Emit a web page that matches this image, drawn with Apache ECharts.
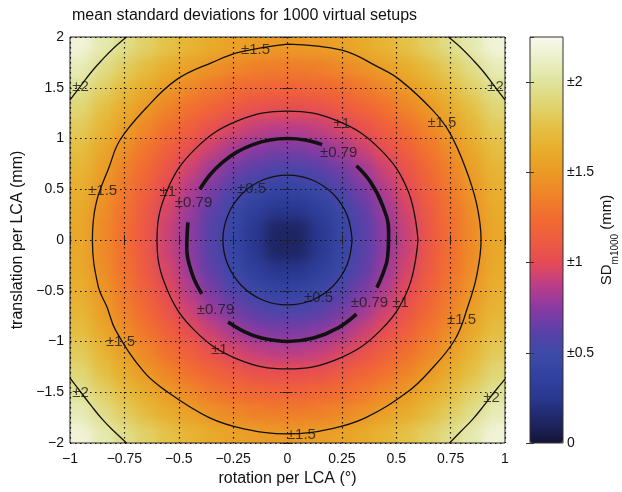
<!DOCTYPE html>
<html lang="en">
<head>
<meta charset="UTF-8">
<title>mean standard deviations for 1000 virtual setups</title>
<script src="https://cdn.jsdelivr.net/npm/echarts@6/dist/echarts.min.js"></script>
<style>
  body { margin: 0; background: #fff; }
  #wrap { position: relative; width: 622px; height: 492px; }
  .plot { position: absolute; left: 70px; top: 37px; width: 435px; height: 406px; }
  #clip { overflow: hidden; }
  #heatBlur { width: 435px; height: 406px; filter: blur(7px); }
  #main { position: absolute; left: 0; top: 0; width: 622px; height: 492px; }
</style>
</head>
<body>
<div id="wrap">
  <div id="heatBase" class="plot"></div>
  <div id="clip" class="plot"><div id="heatBlur"></div></div>
  <div id="main"></div>
</div>
<script type="text/javascript">
// cell centres of one quarter of the map (mirrored about both axes)
var xHalf = [0.05, 0.15, 0.25, 0.35, 0.45, 0.55, 0.65, 0.75, 0.85, 0.95];
var yHalf = [0.1, 0.3, 0.5, 0.7, 0.9, 1.1, 1.3, 1.5, 1.7, 1.9];
// SD_m1000, rows = yHalf, columns = xHalf
var sdQuarter = [
  [0.11, 0.26, 0.43, 0.59, 0.76, 0.92, 1.09, 1.26, 1.42, 1.59],
  [0.25, 0.34, 0.48, 0.63, 0.79, 0.95, 1.11, 1.28, 1.44, 1.61],
  [0.40, 0.47, 0.57, 0.71, 0.85, 1.00, 1.16, 1.32, 1.48, 1.64],
  [0.56, 0.61, 0.69, 0.80, 0.93, 1.07, 1.22, 1.37, 1.53, 1.68],
  [0.71, 0.75, 0.82, 0.92, 1.03, 1.16, 1.30, 1.44, 1.59, 1.74],
  [0.87, 0.90, 0.96, 1.05, 1.15, 1.26, 1.39, 1.52, 1.67, 1.81],
  [1.03, 1.05, 1.11, 1.18, 1.27, 1.38, 1.49, 1.62, 1.75, 1.89],
  [1.18, 1.21, 1.25, 1.32, 1.40, 1.50, 1.61, 1.72, 1.85, 1.98],
  [1.34, 1.36, 1.40, 1.46, 1.54, 1.62, 1.72, 1.83, 1.95, 2.08],
  [1.50, 1.52, 1.55, 1.61, 1.67, 1.76, 1.85, 1.95, 2.06, 2.18]
];

var xTicks = [-1, -0.75, -0.5, -0.25, 0, 0.25, 0.5, 0.75, 1];
var xTickLabels = ['\u22121', '\u22120.75', '\u22120.5', '\u22120.25', '0', '0.25', '0.5', '0.75', '1'];
var yTicks = [-2, -1.5, -1, -0.5, 0, 0.5, 1, 1.5, 2];
var yTickLabels = ['\u22122', '\u22121.5', '\u22121', '\u22120.5', '0', '0.5', '1', '1.5', '2'];
var cbTicks = [0, 0.5, 1, 1.5, 2];
var cbTickLabels = ['0', '\u00b10.5', '\u00b11', '\u00b11.5', '\u00b12'];
var sdMin = 0, sdMax = 2.25;

var cmap = ['#141436', '#1f2768', '#29378f', '#3242a0', '#3e4aa8', '#5c40a8', '#8a3aa2',
            '#bb3e88', '#e64a55', '#ee5c40', '#f26c30', '#ef8328', '#eb9a26', '#e8ad2c',
            '#e4c044', '#e0d470', '#dfe39c', '#ebefc6', '#f8f9ee'];

// contour lines
var c05 = [[0.297, 0], [0.274, 0.245], [0.21, 0.453], [0.114, 0.591], [0, 0.64], [-0.114, 0.591],
  [-0.21, 0.453], [-0.274, 0.245], [-0.297, 0], [-0.274, -0.245], [-0.21, -0.453], [-0.114, -0.591],
  [0, -0.64], [0.114, -0.591], [0.21, -0.453], [0.274, -0.245], [0.297, 0]];
var c079Top = [[0.159, 0.94], [0.081, 0.985], [0, 1], [-0.081, 0.985], [-0.159, 0.94], [-0.233, 0.866],
  [-0.299, 0.766], [-0.356, 0.643], [-0.403, 0.5]];
var c079Right = [[0.317, 0.731], [0.381, 0.574], [0.437, 0.342], [0.465, 0.087], [0.46, -0.174],
  [0.437, -0.342], [0.411, -0.469]];
var c079Bottom = [[0.317, -0.731], [0.233, -0.866], [0.12, -0.966], [0, -1], [-0.12, -0.966],
  [-0.197, -0.906], [-0.273, -0.809]];
var c079Left = [[-0.394, -0.53], [-0.437, -0.342], [-0.463, -0.087], [-0.458, 0.174]];
var c1 = [[0.6, 0], [0.554, 0.486], [0.424, 0.898], [0.23, 1.173], [0, 1.27], [-0.23, 1.173],
  [-0.424, 0.898], [-0.554, 0.486], [-0.6, 0], [-0.554, -0.486], [-0.424, -0.898], [-0.23, -1.173],
  [0, -1.27], [0.23, -1.173], [0.424, -0.898], [0.554, -0.486], [0.6, 0]];
var c15 = [[0, 1.93], [0.25, 1.87], [0.42, 1.7], [0.515, 1.58], [0.667, 1.28], [0.745, 1.06],
  [0.82, 0.7], [0.87, 0.35], [0.89, 0], [0.87, -0.35], [0.83, -0.65], [0.77, -0.98],
  [0.65, -1.3], [0.55, -1.5], [0.36, -1.75], [0.2, -1.86], [0, -1.91], [-0.2, -1.86],
  [-0.36, -1.75], [-0.55, -1.5], [-0.66, -1.3], [-0.79, -0.89], [-0.83, -0.66], [-0.87, -0.46],
  [-0.897, 0], [-0.88, 0.36], [-0.82, 0.72], [-0.77, 0.985], [-0.65, 1.3], [-0.51, 1.58],
  [-0.345, 1.75], [-0.22, 1.85], [0, 1.93]];
var c2TopLeft = [[-1, 1.38], [-0.95, 1.52], [-0.9, 1.66], [-0.85, 1.78], [-0.8, 1.89], [-0.74, 2]];
var c2TopRight = [[0.74, 2], [0.8, 1.89], [0.85, 1.78], [0.9, 1.66], [0.95, 1.52], [1, 1.38]];
var c2BottomLeft = [[-1, -1.36], [-0.95, -1.5], [-0.9, -1.64], [-0.85, -1.77], [-0.8, -1.88], [-0.74, -2]];
var c2BottomRight = [[0.745, -2], [0.8, -1.88], [0.85, -1.77], [0.9, -1.64], [0.95, -1.5], [1, -1.37]];

var contourLabels = [
  [-0.147, 1.87, '\u00b11.5'], [0.25, 1.14, '\u00b11'], [0.71, 1.15, '\u00b11.5'],
  [-0.952, 1.507, '\u00b12'], [0.956, 1.507, '\u00b12'], [-0.85, 0.48, '\u00b11.5'],
  [-0.55, 0.47, '\u00b11'], [-0.432, 0.365, '\u00b10.79'], [-0.165, 0.5, '\u00b10.5'],
  [0.235, 0.857, '\u00b10.79'], [0.143, -0.571, '\u00b10.5'], [0.377, -0.62, '\u00b10.79'],
  [0.52, -0.62, '\u00b11'], [-0.331, -0.69, '\u00b10.79'], [-0.313, -1.084, '\u00b11'],
  [-0.768, -1.005, '\u00b11.5'], [0.8, -0.79, '\u00b11.5'], [-0.952, -1.507, '\u00b12'],
  [0.938, -1.557, '\u00b12'], [0.064, -1.92, '\u00b11.5']
];

var font = "'Liberation Sans', Arial, sans-serif";

// heatmap table built from the quarter
var xCells = [], yCells = [];
xHalf.slice().reverse().forEach(function (v) { xCells.push(String(-v)); });
xHalf.forEach(function (v) { xCells.push(String(v)); });
yHalf.slice().reverse().forEach(function (v) { yCells.push(String(-v)); });
yHalf.forEach(function (v) { yCells.push(String(v)); });
function quarterIndex(i, n) { return i < n ? n - 1 - i : i - n; }
var heatData = [];
for (var iy = 0; iy < yCells.length; iy++) {
  for (var ix = 0; ix < xCells.length; ix++) {
    heatData.push([ix, iy, sdQuarter[quarterIndex(iy, yHalf.length)][quarterIndex(ix, xHalf.length)]]);
  }
}

var heatOption = {
  animation: false,
  grid: { left: 0, right: 0, top: 0, bottom: 0, outerBoundsMode: 'none' },
  xAxis: { type: 'category', data: xCells, show: false },
  yAxis: { type: 'category', data: yCells, show: false },
  visualMap: { show: false, min: sdMin, max: sdMax, inRange: { color: cmap } },
  series: [{ type: 'heatmap', data: heatData, progressive: 0, silent: true }]
};
echarts.init(document.getElementById('heatBase')).setOption(heatOption);
echarts.init(document.getElementById('heatBlur')).setOption(heatOption);

function tickFormatter(ticks, labels) {
  return function (v) {
    for (var i = 0; i < ticks.length; i++) {
      if (Math.abs(ticks[i] - v) < 1e-6) return labels[i];
    }
    return '';
  };
}
function contour(points, width) {
  return {
    type: 'line', xAxisIndex: 0, yAxisIndex: 0, data: points, symbol: 'none',
    smooth: 0.4, silent: true, lineStyle: { color: '#111', width: width }
  };
}

var tickStyle = { show: true, inside: true, length: 5, lineStyle: { color: '#222' } };
var gridDots = { show: true, lineStyle: { color: '#111', width: 1.2, type: [1.5, 3.5] } };
var labelStyle = { color: '#111', fontSize: 14, fontFamily: font };

var option = {
  animation: false,
  title: {
    text: 'mean standard deviations for 1000 virtual setups',
    left: 72, top: 8, padding: 0,
    textStyle: { fontSize: 16, fontWeight: 'normal', color: '#111', fontFamily: font }
  },
  grid: [
    { left: 70, top: 37, width: 435, height: 406, show: true, borderColor: '#222', borderWidth: 1,
      backgroundColor: 'transparent', outerBoundsMode: 'none' },
    { left: 530, top: 37, width: 33, height: 406, show: true, borderColor: '#333', borderWidth: 1,
      backgroundColor: 'transparent', z: 10, outerBoundsMode: 'none' }
  ],
  visualMap: {
    type: 'continuous', show: true, seriesIndex: [], min: sdMin, max: sdMax, calculable: false,
    hoverLink: false, left: 530, top: 37, itemWidth: 33, itemHeight: 406, padding: 0,
    inRange: { color: cmap }
  },
  xAxis: [
    { type: 'value', gridIndex: 0, position: 'bottom', min: xTicks[0], max: xTicks[xTicks.length - 1], interval: 0.25,
      axisLine: { show: false }, axisTick: tickStyle, splitLine: gridDots,
      axisLabel: Object.assign({ margin: 9, formatter: tickFormatter(xTicks, xTickLabels) }, labelStyle),
      name: 'rotation per LCA (\u00b0)', nameLocation: 'middle', nameGap: 25,
      nameTextStyle: { fontSize: 16, color: '#111', fontFamily: font } },
    { type: 'value', gridIndex: 0, position: 'top', min: xTicks[0], max: xTicks[xTicks.length - 1], interval: 0.25,
      axisLine: { show: false }, axisTick: tickStyle, splitLine: { show: false }, axisLabel: { show: false } },
    { type: 'value', gridIndex: 1, min: 0, max: 1, show: false }
  ],
  yAxis: [
    { type: 'value', gridIndex: 0, position: 'left', min: yTicks[0], max: yTicks[yTicks.length - 1], interval: 0.5,
      axisLine: { show: false }, axisTick: tickStyle, splitLine: gridDots,
      axisLabel: Object.assign({ margin: 6, formatter: tickFormatter(yTicks, yTickLabels) }, labelStyle),
      name: 'translation per LCA (mm)', nameLocation: 'middle', nameGap: 37,
      nameTextStyle: { fontSize: 16, color: '#111', fontFamily: font } },
    { type: 'value', gridIndex: 0, position: 'right', min: yTicks[0], max: yTicks[yTicks.length - 1], interval: 0.5,
      axisLine: { show: false }, axisTick: tickStyle, splitLine: { show: false }, axisLabel: { show: false } },
    { type: 'value', gridIndex: 1, position: 'right', min: sdMin, max: sdMax, interval: 0.5, z: 10,
      axisLine: { show: false }, axisTick: { show: true, inside: true, length: 4, lineStyle: { color: '#333' } },
      splitLine: { show: false }, axisLabel: Object.assign({ margin: 4, showMaxLabel: false,
        formatter: tickFormatter(cbTicks, cbTickLabels) }, labelStyle),
      name: '{sd|SD}{sub|m1000}{sd| (mm)}', nameLocation: 'middle', nameGap: 31,
      nameTextStyle: { color: '#111', fontFamily: font, fontSize: 15,
        rich: {
          sd: { fontSize: 15, lineHeight: 26, color: '#111', fontFamily: font },
          sub: { fontSize: 10, lineHeight: 14, verticalAlign: 'bottom', color: '#111', fontFamily: font }
        } } },
    { type: 'value', gridIndex: 1, position: 'left', min: sdMin, max: sdMax, interval: 0.5, z: 10,
      axisLine: { show: false }, axisTick: { show: true, inside: true, length: 4, lineStyle: { color: '#333' } },
      splitLine: { show: false }, axisLabel: { show: false } }
  ],
  series: [
    contour(c05, 1.3),
    contour(c079Top, 3.6),
    contour(c079Right, 3.6),
    contour(c079Bottom, 3.6),
    contour(c079Left, 3.6),
    contour(c1, 1.3),
    contour(c15, 1.3),
    contour(c2TopLeft, 1.3),
    contour(c2TopRight, 1.3),
    contour(c2BottomLeft, 1.3),
    contour(c2BottomRight, 1.3),
    {
      type: 'scatter', xAxisIndex: 0, yAxisIndex: 0, data: contourLabels, symbolSize: 1, silent: true,
      itemStyle: { color: 'rgba(0,0,0,0)' },
      label: { show: true, position: 'inside', color: '#1a1a1a', fontSize: 15, fontFamily: font,
        formatter: function (p) { return p.data[2]; } }
    }
  ]
};

var myChart = echarts.init(document.getElementById('main'));
myChart.setOption(option);
</script>
</body>
</html>
